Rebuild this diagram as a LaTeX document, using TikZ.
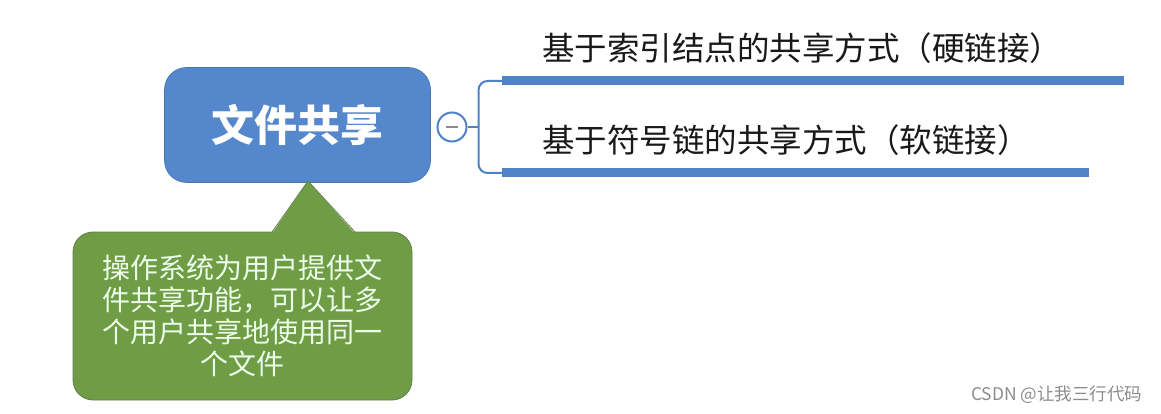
\documentclass[tikz,border=0pt]{standalone}
\usepackage{fontspec}
\usepackage{xcolor}
\usepackage{tikz}
\usetikzlibrary{positioning,calc}
\newfontfamily\cjk{Noto Sans CJK SC}
\definecolor{topicblue}{RGB}{84,135,204}
\definecolor{lineblue}{RGB}{80,130,200}
\definecolor{notegreen}{RGB}{112,156,70}
\definecolor{noteedge}{RGB}{96,128,76}

\begin{document}
\begin{tikzpicture}[
    x=1pt, y=-1pt,
    topic/.style={rectangle, rounded corners=22pt, fill=topicblue, draw=topicblue!85!black, line width=0.6pt,
        minimum width=266pt, minimum height=115pt, text=white, font=\cjk\bfseries\fontsize{43}{50}\selectfont},
    fold/.style={circle, draw=lineblue, line width=2pt, fill=white, minimum size=29pt, inner sep=0pt},
    branch/.style={anchor=west, inner sep=0pt, font=\cjk\fontsize{32.5}{38}\selectfont, text=black!90},
    uline/.style={line width=9pt, draw=lineblue},
    conn/.style={line width=2pt, draw=lineblue, rounded corners=9pt},
    note/.style={rectangle, rounded corners=20pt, fill=notegreen, draw=noteedge, line width=0.8pt,
        minimum width=339pt, minimum height=168pt, align=center, text=white!92!green,
        font=\cjk\fontsize{28}{32}\selectfont}
]
    \useasboundingbox (0,0) rectangle (1161,414);

    % Central topic
    \node[topic] (share) at (297.5,125) {文件共享};
    \node[fold] (minus) at (452,127) {};
    \draw[line width=2pt, black!45] ($(minus.center)+(-6,0)$) -- ($(minus.center)+(6,0)$);

    % Subtopics
    \node[branch] (hard) at (542,48) {基于索引结点的共享方式（硬链接）};
    \node[branch] (soft) at (542,140) {基于符号链的共享方式（软链接）};

    \coordinate (u1w) at (502,81);
    \coordinate (u1e) at (1124,81);
    \coordinate (u2w) at (502,173);
    \coordinate (u2e) at (1089,173);
    \draw[uline] (u1w) -- (u1e);
    \draw[uline] (u2w) -- (u2e);

    % Bracket
    \draw[line width=2pt, lineblue] (minus.east) -- ++(11,0) coordinate (fork);
    \draw[conn] (fork) |- (u1w);
    \draw[conn] (fork) |- (u2w);

    % Callout
    \node[note] (desc) at (242.5,316) {操作系统为用户提供文\\件共享功能，可以让多\\个用户共享地使用同一\\个文件};
    \fill[notegreen] (272,233.5) -- (308,181) -- (355,233.5) -- cycle;
    \draw[noteedge, line width=0.8pt] (272,232) -- (308,181) -- (355,232);

    % Watermark
    \node[text=black!45, font=\cjk\fontsize{17.5}{20}\selectfont, anchor=east] (mark) at (1146,395) {CSDN @让我三行代码};
\end{tikzpicture}
\end{document}
